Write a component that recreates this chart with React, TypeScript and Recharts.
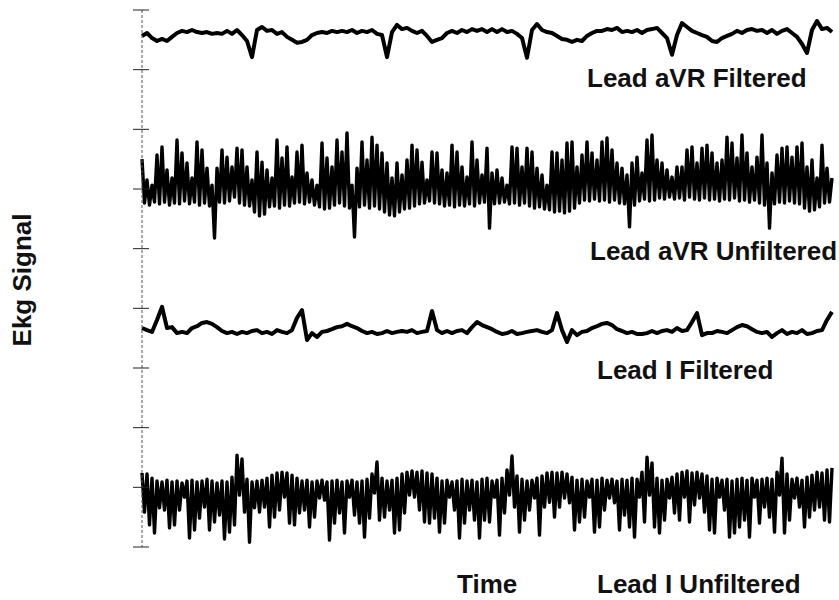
import React from "react"
import { LineChart, Line, XAxis, YAxis } from "recharts"

// sample spacing (time units) for the two kinds of traces
const STEP_FILTERED = 5
const STEP_RAW = 2.5

const yTicks = [0, 20, 40, 60, 80, 100, 120, 140, 160, 180]

const leadAVRFiltered = [
  171.3, 172.3, 170.6, 169.6, 170.3, 169.6, 171, 172.3, 173, 172.6,
  173.3, 172.6, 172.3, 172.6, 172, 172.3, 172, 173, 172, 173.3,
  171.6, 169.6, 164.2, 173.3, 174.3, 173, 173.3, 172, 172.6, 171,
  170, 169, 169.3, 170, 171.6, 172.3, 172.6, 172.3, 173, 172.6,
  173, 172.6, 173.3, 172.3, 173, 172.6, 173.3, 172, 171.6, 164.2,
  172.6, 175, 173.6, 174, 173, 172.3, 173, 171.3, 169.3, 170,
  170.6, 172.3, 173, 172.3, 173.3, 172.6, 173.6, 173, 173.6, 172.6,
  173.6, 172.6, 173.6, 172.6, 173, 172, 170.6, 164, 173.3, 175.3,
  173.3, 172.6, 172.3, 171.3, 170.3, 170, 169.3, 170, 169.6, 171.3,
  172.3, 173, 173, 173.6, 173.3, 174, 172.6, 173, 172.6, 173.3,
  172.3, 173.3, 173.6, 174, 172.3, 170.6, 165, 171.6, 175.6, 174.3,
  173, 172.3, 171.6, 171, 169.6, 169.3, 170.6, 171.3, 172, 173,
  172.3, 173.3, 173.6, 173, 173.3, 172.3, 173.3, 172, 173, 173.6,
  172.3, 171, 168.6, 165.6, 173.3, 176.3, 173.6, 174, 172.6,
]

const leadAVRUnfiltered = [
  130, 115.3, 123, 114.6, 121.3, 115.6, 131.4, 115, 134.1, 115.6,
  126.4, 114.6, 123.7, 115.3, 136.4, 115, 132.1, 116, 128.7, 115,
  123.7, 115.6, 135.8, 114.6, 133.1, 115.3, 127, 114.3, 121.3, 103.6,
  127, 115.6, 133.1, 115.3, 130.7, 116, 127.4, 117.3, 133.7, 115.3,
  133.1, 114.6, 127.4, 114.3, 123, 112.3, 132.4, 111, 129, 111.6,
  126.4, 114, 123.7, 114.3, 136.4, 113.6, 130.4, 114.6, 134.1, 114.3,
  124, 115.3, 132.4, 115.6, 134.7, 115, 125.4, 115.6, 123, 114.6,
  121.3, 114, 135.4, 113.3, 130.4, 113.6, 127.4, 114.6, 136.4, 115.3,
  132.4, 114.3, 138.8, 113.6, 121.3, 103.9, 127, 114, 135.8, 114.6,
  129.7, 113.6, 137.4, 114.3, 134.7, 113.3, 132.1, 112.3, 128.7, 111.3,
  123.7, 111, 128.7, 112.3, 124.7, 113.3, 129.7, 113.6, 134.7, 114.3,
  133.1, 115, 129, 115.3, 123, 116, 132.4, 115.3, 132.1, 115,
  126.4, 114.3, 125.4, 114.6, 134.7, 114, 132.4, 114.6, 127.4, 114.3,
  124, 115, 135.8, 114.3, 129.7, 115.3, 124.7, 115.6, 133.7, 106.9,
  125.4, 115, 126.4, 115.3, 123.7, 115.6, 121.3, 115, 134.1, 115.3,
  133.7, 114.6, 127.4, 115.3, 133.7, 114.3, 132.4, 113.6, 127, 114,
  124.7, 113.3, 121.3, 113, 132.4, 112.3, 132.1, 112.6, 129.7, 112,
  135.4, 112.6, 135.8, 113.6, 127.4, 115.3, 131.4, 116.3, 135.8, 116,
  132.1, 116.6, 129.7, 116, 135.8, 116.3, 137.1, 115.6, 133.1, 116.3,
  128.7, 115.3, 127, 115, 124.7, 107.3, 128.7, 114.6, 130.7, 116,
  125.4, 116.6, 136.4, 116, 138.1, 116.3, 129.7, 117, 128.7, 116.6,
  126.4, 117.3, 124, 116.6, 127.4, 117, 127.4, 116.3, 133.1, 117.3,
  134.1, 116.6, 128.7, 116.3, 133.7, 117, 134.7, 116.3, 132.1, 116.6,
  128.7, 116, 129.7, 116.6, 137.4, 116.3, 135.4, 117, 130.4, 116,
  138.1, 116.3, 132.1, 115.6, 127.4, 116.3, 130.7, 115.3, 138.1, 114.6,
  128.7, 106.9, 125.4, 115, 131.4, 115.6, 133.7, 115.3, 134.1, 116,
  130.7, 115.3, 134.1, 115, 135.4, 113.6, 127.4, 112.6, 129.7, 113,
  123.7, 114, 134.7, 115.3, 127, 115.6, 123.7,
]

const leadIFiltered = [
  73.4, 72.7, 72.1, 76.1, 80.5, 73.4, 73.7, 71.7, 72.1, 71.7,
  73.4, 74, 75.1, 75.4, 74.8, 73.7, 72.4, 71.7, 72.1, 71.4,
  72.1, 71.7, 72.4, 72.7, 71.7, 72.1, 71.4, 72.7, 72.1, 71.7,
  72.7, 76.8, 79.4, 69.4, 71.7, 70.4, 72.1, 72.4, 73, 73.7,
  74, 74.8, 74, 73.4, 72.4, 71.7, 72.1, 71.4, 71.7, 72.4,
  71.7, 72.1, 72.4, 72.1, 72.7, 71.7, 72.1, 72.4, 79.1, 72.7,
  71.7, 72.4, 71.7, 72.4, 72.7, 71.7, 73.7, 75.4, 74.4, 73.7,
  73, 72.1, 71.4, 71.7, 72.4, 71.4, 71.7, 72.1, 72.4, 72.7,
  72.1, 71.7, 72.7, 78.4, 72.7, 68.7, 72.7, 71, 72.1, 72.4,
  73.4, 74, 74.8, 75.1, 74.4, 73, 72.4, 71.7, 72.1, 71.4,
  71.4, 71.7, 72.4, 71.7, 72.4, 72.7, 72.1, 73.4, 72.4, 72.7,
  75.4, 78.4, 71, 71.7, 71.7, 72.4, 72.1, 71.7, 72.7, 73.7,
  74.4, 74, 73, 72.1, 71.7, 72.1, 70.4, 71.7, 72.7, 71.4,
  72.1, 71.7, 72.7, 71.4, 71.7, 72.4, 72.7, 76.1, 78.8,
]

const leadIUnfiltered = [
  24.8, 11.7, 24.5, 7.4, 23.1, 4.7, 22.1, 13.1, 21.8, 12.4,
  22.4, 6.4, 21.8, 7.4, 22.1, 12.4, 21.5, 16.7, 22.1, 3.0,
  22.4, 5.7, 21.8, 9.7, 22.1, 13.4, 22.7, 5.7, 22.1, 8.4,
  21.5, 10.7, 22.1, 2.7, 21.8, 5.0, 23.4, 7.4, 30.8, 17.4,
  29.5, 11.7, 22.7, 1.6, 21.8, 13.1, 22.1, 11.7, 22.4, 13.4,
  23.1, 6.7, 24.1, 10.0, 24.8, 12.4, 25.1, 16.7, 24.8, 8.0,
  24.1, 7.4, 23.1, 11.4, 22.1, 12.4, 22.4, 6.7, 21.8, 10.0,
  22.1, 16.4, 22.4, 15.7, 21.8, 2.3, 22.1, 8.0, 22.4, 11.4,
  21.8, 4.7, 22.1, 16.7, 22.4, 10.7, 21.8, 8.0, 22.1, 3.3,
  22.7, 9.7, 24.5, 18.1, 28.5, 9.0, 23.1, 10.0, 22.1, 12.4,
  22.4, 4.7, 23.1, 5.7, 24.5, 11.4, 25.1, 17.4, 25.5, 16.7,
  25.1, 12.4, 25.5, 8.4, 24.8, 8.0, 24.5, 9.7, 23.1, 5.0,
  22.1, 8.0, 22.4, 16.7, 21.8, 12.4, 22.1, 3.0, 22.7, 8.0,
  22.1, 12.4, 22.4, 9.0, 21.8, 3.0, 22.7, 9.0, 23.1, 8.4,
  22.1, 16.7, 22.4, 4.0, 23.1, 11.4, 25.8, 17.4, 30.5, 13.4,
  23.8, 5.0, 22.7, 9.0, 22.1, 12.4, 22.4, 16.4, 23.1, 4.0,
  23.8, 13.4, 24.8, 15, 25.1, 10.0, 24.8, 13.4, 25.1, 16.4,
  24.5, 14.8, 23.4, 5.7, 22.4, 8.4, 22.7, 10.0, 22.1, 16.7,
  22.7, 5.0, 22.4, 6.7, 23.1, 12.4, 22.4, 16.4, 22.7, 14.8,
  22.1, 5.7, 22.7, 10.7, 22.4, 6.7, 23.1, 3.3, 22.7, 16.7,
  25.1, 8.4, 30.1, 17.4, 28.2, 6.7, 23.1, 4.7, 22.4, 9.0,
  22.7, 16.4, 23.4, 11.4, 24.5, 9.0, 25.1, 16.7, 25.5, 8.4,
  24.8, 14.1, 25.1, 16.4, 24.5, 11.7, 23.8, 5.7, 22.7, 4.7,
  23.1, 16.7, 22.4, 12.4, 22.7, 3.3, 22.1, 4.7, 22.7, 6.7,
  23.1, 9.0, 22.4, 3.3, 23.1, 16.7, 22.4, 8.0, 22.7, 13.4,
  23.1, 10.0, 22.7, 5.0, 25.1, 17.4, 29.8, 4.7, 24.5, 9.0,
  22.7, 16.4, 23.1, 13.4, 22.4, 6.7, 23.4, 10.0, 24.1, 12.4,
  25.1, 13.4, 24.8, 9.0, 25.8, 8.4, 26.5,
]

const toSeries = (values: number[], step: number) =>
  values.map((v, i) => ({ t: i * step, v }))

const traces = [
  { name: "Lead aVR Filtered", data: toSeries(leadAVRFiltered, STEP_FILTERED), width: 4 },
  { name: "Lead aVR Unfiltered", data: toSeries(leadAVRUnfiltered, STEP_RAW), width: 3.4 },
  { name: "Lead I Filtered", data: toSeries(leadIFiltered, STEP_FILTERED), width: 4 },
  { name: "Lead I Unfiltered", data: toSeries(leadIUnfiltered, STEP_RAW), width: 3.4 },
]

// tick drawn as a small cross on the axis line
const CrossTick = (props: any) => {
  const { x, y } = props
  return <line x1={x - 9} x2={x + 7} y1={y} y2={y} stroke="#222" strokeWidth={1} />
}

const labelStyle: React.CSSProperties = {
  fontFamily: "'Liberation Sans', Arial, sans-serif",
  fontWeight: "bold",
  fontSize: 26,
  fill: "#111",
}

export default function App() {
  return (
    <div style={{ position: "absolute", left: 0, top: 0, width: 839, height: 600, background: "#fff" }}>
      <LineChart width={839} height={600} margin={{ top: 10, right: 3, bottom: 53, left: 0 }}>
        <XAxis type="number" dataKey="t" domain={[0, 694]} hide allowDuplicatedCategory={false} />
        <YAxis
          type="number"
          domain={[0, 180]}
          ticks={yTicks}
          interval={0}
          width={142}
          tickSize={0}
          tickMargin={0}
          tickLine={false}
          tick={<CrossTick />}
          axisLine={{ stroke: "#555", strokeDasharray: "3 2" }}
        />
        {traces.map((tr) => (
          <Line
            key={tr.name}
            data={tr.data}
            dataKey="v"
            name={tr.name}
            type="linear"
            stroke="#000"
            strokeWidth={tr.width}
            strokeLinejoin="round"
            dot={false}
            activeDot={false}
            isAnimationActive={false}
          />
        ))}
      </LineChart>
      <svg width={839} height={600} style={{ position: "absolute", left: 0, top: 0, pointerEvents: "none" }}>
        <text x={587} y={87} style={labelStyle}>Lead aVR Filtered</text>
        <text x={590} y={260} style={labelStyle}>Lead aVR Unfiltered</text>
        <text x={597} y={379} style={labelStyle}>Lead I Filtered</text>
        <text x={457} y={593} style={labelStyle}>Time</text>
        <text x={597} y={593} style={labelStyle}>Lead I Unfiltered</text>
        <text x={31} y={280} textAnchor="middle" transform="rotate(-90 31 280)" style={labelStyle}>
          Ekg Signal
        </text>
      </svg>
    </div>
  )
}
